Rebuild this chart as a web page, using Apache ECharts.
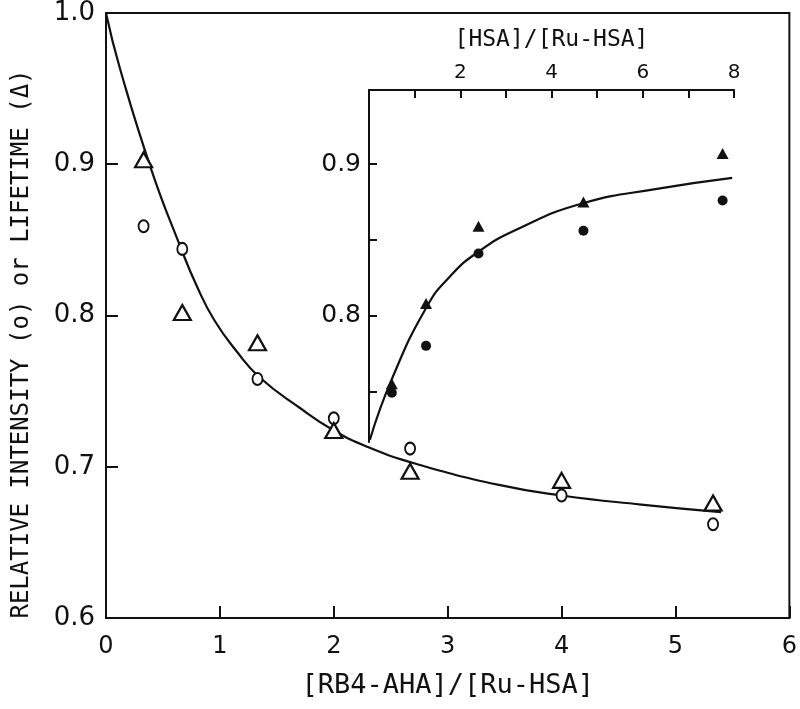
<!DOCTYPE html>
<html>
<head>
<meta charset="utf-8">
<script src="https://cdn.jsdelivr.net/npm/echarts@6/dist/echarts.min.js"></script>
<style>
    html, body { margin: 0; padding: 0; background: #fff; }
    #chart { width: 800px; height: 709px; }
</style>
</head>
<body>
<div id="chart"></div>
<script>
// main panel: quencher titration
const ratioRb4 = [0.33, 0.67, 1.33, 2.0, 2.67, 4.0, 5.33];
const intensityMain = [0.859, 0.844, 0.758, 0.732, 0.712, 0.681, 0.662];
const lifetimeMain = [0.903, 0.802, 0.782, 0.724, 0.697, 0.691, 0.676];

// fitted curve
const fitMainX = [0, 0.12, 0.4, 0.65, 0.8, 0.95, 1.15, 1.35, 1.7, 2.0, 2.3, 2.72, 3.45, 4.0, 4.7, 5.4];
const fitMainY = [1.0, 0.964, 0.896, 0.846, 0.819, 0.797, 0.776, 0.759, 0.739, 0.724, 0.713, 0.702, 0.688, 0.681, 0.675, 0.670];

// inset: added HSA
const ratioHsa = [0.5, 1.25, 2.4, 4.7, 7.75];
const lifetimeInset = [0.755, 0.808, 0.859, 0.875, 0.907];
const intensityInset = [0.749, 0.780, 0.841, 0.856, 0.876];

const fitInsetX = [0.02, 0.5, 1.27, 1.78, 2.39, 3.25, 4.67, 6.38, 7.96];
const fitInsetY = [0.718, 0.758, 0.806, 0.826, 0.842, 0.857, 0.874, 0.884, 0.891];

const mainYTicks = [0.6, 1.0, 0.1];
const insetYTicks = [0.75, 0.8, 0.85, 0.9];
const insetYLabels = [0.8, 0.9];

const pairs = (xs, ys) => xs.map((x, i) => [x, ys[i]]);

const ink = "#111";
const sans = "DejaVu Sans";
const mono = "DejaVu Sans Mono";

const chart = echarts.init(document.getElementById("chart"), null, { renderer: "canvas" });

chart.setOption({
    backgroundColor: "#fff",
    animation: false,
    grid: [
        { left: 106, top: 13, width: 685, height: 605, show: true, borderColor: ink, borderWidth: 2, backgroundColor: "transparent" },
        { left: 369, top: 90, width: 365, height: 352 }
    ],
    xAxis: [
        {
            gridIndex: 0,
            type: "value",
            min: 0,
            max: 6,
            interval: 1,
            name: "[RB4-AHA]/[Ru-HSA]",
            nameLocation: "middle",
            nameGap: 54,
            nameTextStyle: { color: ink, fontFamily: mono, fontSize: 27 },
            axisLine: { lineStyle: { color: ink, width: 2 } },
            axisTick: { inside: true, length: 12, lineStyle: { color: ink, width: 2 } },
            axisLabel: { color: ink, fontFamily: sans, fontSize: 24, margin: 17 },
            splitLine: { show: false }
        },
        {
            gridIndex: 1,
            type: "value",
            position: "top",
            min: 0,
            max: 8,
            interval: 1,
            name: "[HSA]/[Ru-HSA]",
            nameLocation: "middle",
            nameGap: 38,
            nameTextStyle: { color: ink, fontFamily: mono, fontSize: 23 },
            axisLine: { lineStyle: { color: ink, width: 2 } },
            axisTick: { inside: true, length: 8, lineStyle: { color: ink, width: 2 } },
            axisLabel: {
                color: ink,
                fontFamily: sans,
                fontSize: 20,
                margin: 7,
                formatter: v => (v > 0 && v % 2 === 0 ? String(v) : "")
            },
            splitLine: { show: false }
        }
    ],
    yAxis: [
        {
            gridIndex: 0,
            type: "value",
            min: mainYTicks[0],
            max: mainYTicks[1],
            interval: mainYTicks[2],
            axisLine: { lineStyle: { color: ink, width: 2 } },
            axisTick: { inside: true, length: 12, lineStyle: { color: ink, width: 2 } },
            axisLabel: { color: ink, fontFamily: sans, fontSize: 26, margin: 11, formatter: v => v.toFixed(1) },
            splitLine: { show: false }
        },
        {
            gridIndex: 1,
            type: "value",
            min: 0.7165,
            max: 0.949,
            axisLine: { lineStyle: { color: ink, width: 2 } },
            axisTick: { inside: true, length: 8, customValues: insetYTicks, lineStyle: { color: ink, width: 2 } },
            axisLabel: { color: ink, fontFamily: sans, fontSize: 25, margin: 8, customValues: insetYLabels, formatter: v => v.toFixed(1) },
            splitLine: { show: false }
        }
    ],
    graphic: [
        {
            type: "text",
            x: 22,
            y: 344,
            rotation: Math.PI / 2,
            style: {
                text: "RELATIVE INTENSITY (o) or LIFETIME (\u0394)",
                fill: ink,
                font: "24px " + mono,
                textAlign: "center",
                textVerticalAlign: "middle"
            }
        }
    ],
    series: [
        {
            name: "fit",
            type: "line",
            xAxisIndex: 0,
            yAxisIndex: 0,
            data: pairs(fitMainX, fitMainY),
            smooth: 0.5,
            showSymbol: false,
            lineStyle: { color: ink, width: 2.2 },
            z: 2
        },
        {
            name: "intensity",
            type: "scatter",
            xAxisIndex: 0,
            yAxisIndex: 0,
            data: pairs(ratioRb4, intensityMain),
            symbol: "circle",
            symbolSize: [10, 12],
            itemStyle: { color: "#fff", borderColor: ink, borderWidth: 2, opacity: 1 },
            z: 3
        },
        {
            name: "lifetime",
            type: "scatter",
            xAxisIndex: 0,
            yAxisIndex: 0,
            data: pairs(ratioRb4, lifetimeMain),
            symbol: "triangle",
            symbolSize: [17, 15],
            itemStyle: { color: "#fff", borderColor: ink, borderWidth: 2.2, opacity: 1 },
            z: 3
        },
        {
            name: "fit inset",
            type: "line",
            xAxisIndex: 1,
            yAxisIndex: 1,
            data: pairs(fitInsetX, fitInsetY),
            smooth: 0.5,
            showSymbol: false,
            lineStyle: { color: ink, width: 2.2 },
            z: 2
        },
        {
            name: "lifetime inset",
            type: "scatter",
            xAxisIndex: 1,
            yAxisIndex: 1,
            data: pairs(ratioHsa, lifetimeInset),
            symbol: "triangle",
            symbolSize: [12, 11],
            itemStyle: { color: ink, opacity: 1 },
            z: 3
        },
        {
            name: "intensity inset",
            type: "scatter",
            xAxisIndex: 1,
            yAxisIndex: 1,
            data: pairs(ratioHsa, intensityInset),
            symbol: "circle",
            symbolSize: 10,
            itemStyle: { color: ink, opacity: 1 },
            z: 3
        }
    ]
});
</script>
</body>
</html>
